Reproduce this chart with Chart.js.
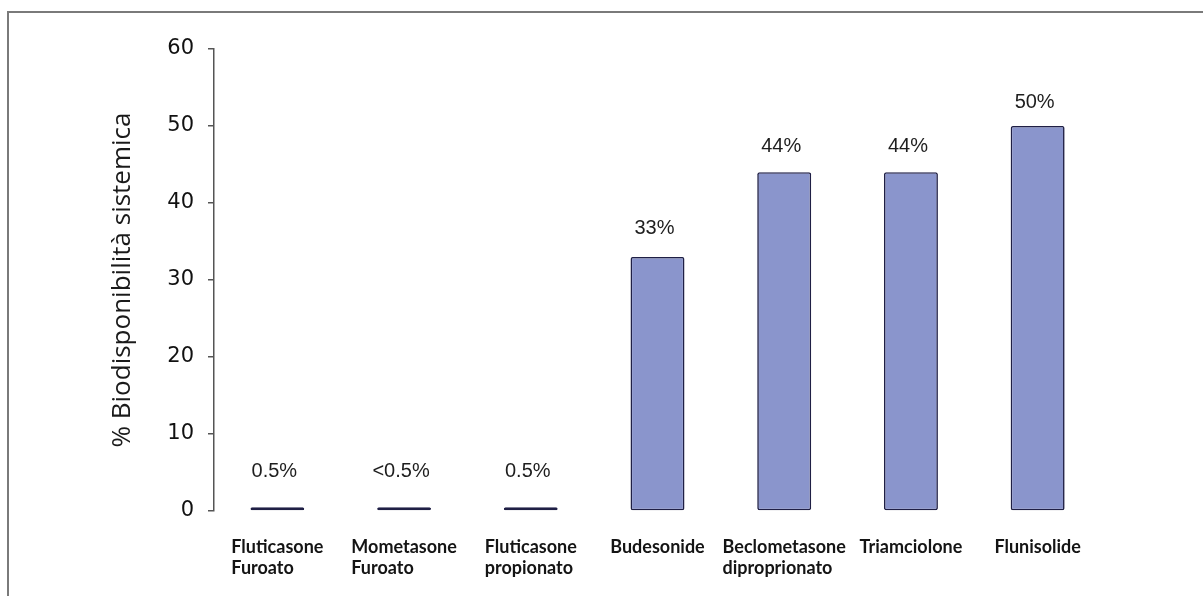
<!DOCTYPE html>
<html>
<head>
<meta charset="utf-8">
<script src="https://cdn.jsdelivr.net/npm/chart.js@4/dist/chart.umd.min.js"></script>
<style>
  html, body { margin: 0; padding: 0; background: #fff; }
  #wrap { position: relative; width: 1203px; height: 596px; }
  canvas { display: block; }
</style>
</head>
<body>
<div id="wrap"><canvas id="c" width="1203" height="596"></canvas></div>
<script>
// ---- data ----
const categories = [
  ["Fluticasone", "Furoato"],
  ["Mometasone", "Furoato"],
  ["Fluticasone", "propionato"],
  ["Budesonide"],
  ["Beclometasone", "diproprionato"],
  ["Triamciolone"],
  ["Flunisolide"]
];
const bioavailability = [0.5, 0.5, 0.5, 33, 44, 44, 50];
const valueLabels = ["0.5%", "<0.5%", "0.5%", "33%", "44%", "44%", "50%"];
const yTicks = [0, 10, 20, 30, 40, 50, 60];
const yTitle = "% Biodisponibilità sistemica";

// ---- plugins ----
const framePlugin = {
  id: 'frame',
  beforeDraw(chart) {
    const ctx = chart.ctx;
    ctx.save();
    ctx.fillStyle = '#ffffff';
    ctx.fillRect(0, 0, chart.width, chart.height);
    ctx.strokeStyle = '#7a7a7a';
    ctx.lineWidth = 2;
    ctx.beginPath();
    ctx.moveTo(8, chart.height);
    ctx.lineTo(8, 12);
    ctx.lineTo(chart.width, 12);
    ctx.stroke();
    ctx.restore();
  }
};

const valueLabelPlugin = {
  id: 'valueLabels',
  afterDatasetsDraw(chart) {
    const ctx = chart.ctx;
    const meta = chart.getDatasetMeta(0);
    ctx.save();
    ctx.font = '20px "Liberation Sans", Arial, sans-serif';
    ctx.fillStyle = '#1e1e1e';
    ctx.textAlign = 'center';
    ctx.textBaseline = 'middle';
    meta.data.forEach((bar, i) => {
      const gap = 36 - 0.24 * bioavailability[i];
      ctx.fillText(valueLabels[i], bar.x - 3, bar.y - gap);
    });
    ctx.restore();
  }
};

const categoryLabelPlugin = {
  id: 'categoryLabels',
  afterDraw(chart) {
    const ctx = chart.ctx;
    const xs = chart.scales.x;
    const base = chart.chartArea.bottom;
    ctx.save();
    ctx.font = 'bold 18px Lato, "Open Sans", sans-serif';
    ctx.fillStyle = '#141414';
    ctx.textAlign = 'left';
    ctx.textBaseline = 'middle';
    categories.forEach((lines, i) => {
      const cx = xs.getPixelForValue(i);
      const w = Math.max(...lines.map(l => ctx.measureText(l).width));
      const left = cx - w / 2;
      lines.forEach((line, k) => {
        ctx.fillText(line, left, base + 36 + k * 21);
      });
    });
    ctx.restore();
  }
};

new Chart(document.getElementById('c'), {
  type: 'bar',
  data: {
    labels: categories,
    datasets: [{
      data: bioavailability,
      backgroundColor: '#8a95cc',
      borderColor: '#1f1f45',
      borderWidth: 1.6,
      borderSkipped: false,
      borderRadius: 2,
      categoryPercentage: 1.0,
      barPercentage: 0.426
    }]
  },
  options: {
    responsive: false,
    animation: false,
    events: [],
    layout: { padding: { left: 107, top: 49, right: 102, bottom: 85 } },
    plugins: {
      legend: { display: false },
      tooltip: { enabled: false }
    },
    scales: {
      x: {
        display: false,
        offset: true,
        grid: { display: false }
      },
      y: {
        min: 0,
        max: 60,
        afterBuildTicks(scale) {
          scale.ticks = yTicks.map(v => ({ value: v }));
        },
        afterFit(scale) { scale.width = 107; },
        border: { display: true, color: '#555555', width: 1.5 },
        grid: {
          drawOnChartArea: false,
          drawTicks: true,
          tickLength: 6,
          color: '#555555',
          lineWidth: 1.5
        },
        ticks: {
          padding: 14,
          color: '#111111',
          font: { family: '"DejaVu Sans", sans-serif', size: 21 }
        },
        title: {
          display: true,
          text: yTitle,
          color: '#1a1a1a',
          padding: 0,
          font: { family: '"Open Sans", sans-serif', size: 26 }
        }
      }
    }
  },
  plugins: [framePlugin, valueLabelPlugin, categoryLabelPlugin]
});
</script>
</body>
</html>
